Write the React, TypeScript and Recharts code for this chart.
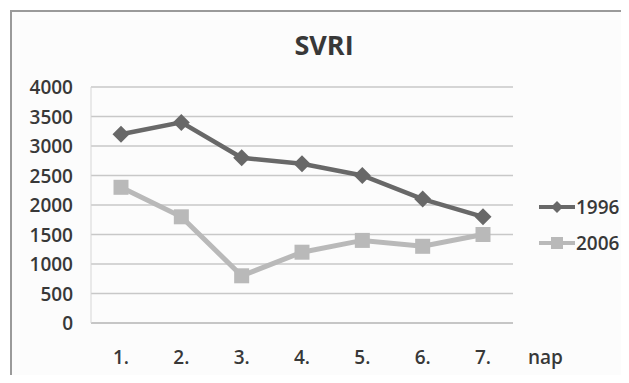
import { LineChart, Line, XAxis, YAxis, CartesianGrid, Legend } from 'recharts';

const DAYS = ['1.', '2.', '3.', '4.', '5.', '6.', '7.'];
const SVRI_1996 = [3200, 3400, 2800, 2700, 2500, 2100, 1800];
const SVRI_2006 = [2300, 1800, 800, 1200, 1400, 1300, 1500];
const Y_TICKS = [0, 500, 1000, 1500, 2000, 2500, 3000, 3500, 4000];

const DARK = '#686868';
const LIGHT = '#b9b9b9';
const TEXT = '#383838';
const FONT = '"Open Sans", "DejaVu Sans", sans-serif';
const TICK_SIZE = 19;

const data = DAYS.map((day, i) => ({ day, y1996: SVRI_1996[i], y2006: SVRI_2006[i] }));

const YTick = ({ y, payload }: any) => (
  <text x={73} y={y} dominantBaseline="central" textAnchor="end" fill={TEXT}
    fontFamily={FONT} fontWeight={650} fontSize={TICK_SIZE}>
    {payload.value}
  </text>
);

const XTick = ({ x, payload }: any) => (
  <text x={x} y={357} dominantBaseline="central" textAnchor="middle" fill={TEXT}
    fontFamily={FONT} fontWeight={650} fontSize={TICK_SIZE}>
    {payload.value}
  </text>
);

const Diamond = ({ cx, cy, index }: any) => (
  <path key={`d-${index}`} d={`M${cx},${cy - 8.5}L${cx + 8.5},${cy}L${cx},${cy + 8.5}L${cx - 8.5},${cy}Z`} fill={DARK} />
);

const Square = ({ cx, cy, index }: any) => (
  <rect key={`s-${index}`} x={cx - 7.5} y={cy - 7.5} width={15} height={15} fill={LIGHT} />
);

const LegendRows = () => (
  <div style={{ fontFamily: FONT, fontWeight: 650, fontSize: TICK_SIZE, color: TEXT }}>
    {[
      { name: '1996', color: DARK, square: false },
      { name: '2006', color: LIGHT, square: true },
    ].map((s) => (
      <div key={s.name} style={{ display: 'flex', alignItems: 'center', height: 36 }}>
        <svg width={38} height={16}>
          <line x1={1} y1={8} x2={37} y2={8} stroke={s.color} strokeWidth={4} />
          {s.square
            ? <rect x={13} y={2} width={12} height={12} fill={s.color} />
            : <path d="M19,2L25,8L19,14L13,8Z" fill={s.color} />}
        </svg>
        <span>{s.name}</span>
      </div>
    ))}
  </div>
);

export default function App() {
  return (
    <div style={{ position: 'relative', width: 629, height: 383, margin: -8, overflow: 'hidden', background: '#fff' }}>
      <div style={{
        position: 'absolute', left: 10, top: 10, width: 640, height: 400,
        borderTop: '2px solid #9a9a9a', borderLeft: '2px solid #9a9a9a', background: '#fcfcfc',
      }} />
      <div style={{
        position: 'absolute', left: 0, top: 28, width: 648, textAlign: 'center',
        fontFamily: FONT, fontWeight: 700, fontSize: 27, color: TEXT, lineHeight: '34px',
      }}>
        SVRI
      </div>
      <div style={{ position: 'absolute', left: 0, top: 0 }}>
        <LineChart width={629} height={383} data={data}
          margin={{ top: 87, right: 116, bottom: 30, left: 0 }}>
          <CartesianGrid vertical={false} stroke="#c8c8c8" strokeWidth={1.5} />
          <XAxis dataKey="day" height={30} padding={{ left: 30, right: 30 }}
            axisLine={{ stroke: '#c0c0c0', strokeWidth: 1.5 }} tickLine={false} tick={<XTick />}
            interval={0}
            label={({ viewBox }: any) => (
              <text x={viewBox.x + viewBox.width + 15} y={357} dominantBaseline="central"
                fill={TEXT} fontFamily={FONT} fontWeight={650} fontSize={TICK_SIZE}>
                nap
              </text>
            )} />
          <YAxis width={91} domain={[0, 4000]} ticks={Y_TICKS} interval={0}
            axisLine={{ stroke: '#d6d6d6' }} tickLine={false} tick={<YTick />} />
          <Legend layout="horizontal" align="center" verticalAlign="middle" width={90}
            wrapperStyle={{ left: 538, top: 189 }} content={<LegendRows />} />
          <Line dataKey="y2006" name="2006" stroke={LIGHT} strokeWidth={5}
            dot={<Square />} activeDot={false} isAnimationActive={false} />
          <Line dataKey="y1996" name="1996" stroke={DARK} strokeWidth={4.5}
            dot={<Diamond />} activeDot={false} isAnimationActive={false} />
        </LineChart>
      </div>
    </div>
  );
}
